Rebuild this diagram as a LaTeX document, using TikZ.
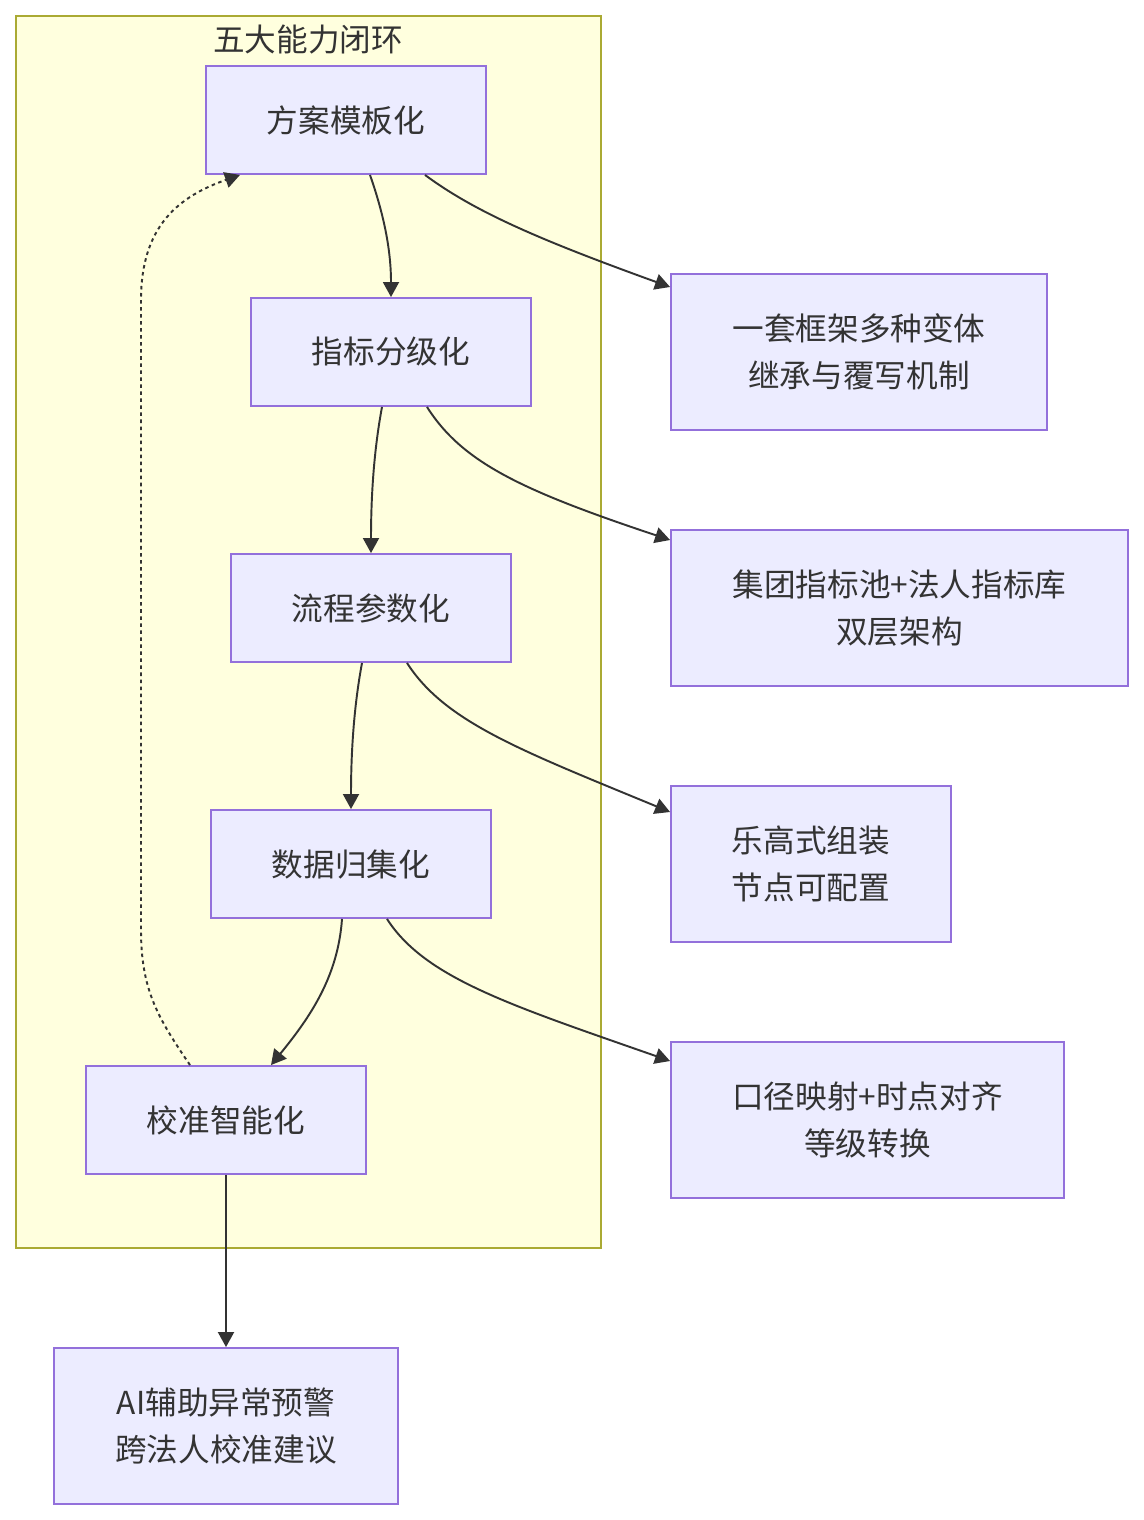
\documentclass[tikz,border=0pt]{standalone}
\usepackage{fontspec}
\setmainfont{Noto Sans CJK SC}
\usetikzlibrary{arrows.meta,calc}
\definecolor{nodefill}{HTML}{ECECFF}
\definecolor{nodeline}{HTML}{9370DB}
\definecolor{groupfill}{HTML}{FFFFDE}
\definecolor{groupline}{HTML}{AAAA33}
\definecolor{ink}{HTML}{333333}
\begin{document}
\begin{tikzpicture}[x=0.02cm,y=-0.02cm,>={Triangle[length=0.3cm,width=0.32cm]},
  line width=1.1pt,font=\fontsize{18pt}{27pt}\selectfont,text=ink,
  box/.style={draw=nodeline,fill=nodefill,inner sep=0pt,align=center,minimum height=2.16cm},
  tallbox/.style={box,minimum height=3.12cm},
  link/.style={draw=ink,->},
  loopback/.style={draw=ink,->,dash pattern=on 2pt off 2pt}]
  \useasboundingbox (0,0) rectangle (1143,1520);

  % 外框
  \draw[groupline,fill=groupfill] (16,16) rectangle (601,1248);
  \node (title) at (308,40) {五大能力闭环};

  % 五个主节点
  \node[box,minimum width=5.6cm] (fangan)    at (346,120)  {方案模板化};
  \node[box,minimum width=5.6cm] (zhibiao)   at (391,352)  {指标分级化};
  \node[box,minimum width=5.6cm] (liucheng)  at (371,608)  {流程参数化};
  \node[box,minimum width=5.6cm] (shuju)     at (351,864)  {数据归集化};
  \node[box,minimum width=5.6cm] (jiaozhun)  at (226,1120) {校准智能化};

  % 右侧说明节点
  \node[tallbox,minimum width=7.52cm] (bianti)     at (859,352)   {一套框架多种变体\\继承与覆写机制};
  \node[tallbox,minimum width=9.14cm] (shuangceng) at (899.5,608) {集团指标池+法人指标库\\双层架构};
  \node[tallbox,minimum width=5.6cm]  (legao)      at (811,864)   {乐高式组装\\节点可配置};
  \node[tallbox,minimum width=7.86cm] (koujing)    at (867.5,1120) {口径映射+时点对齐\\等级转换};
  \node[tallbox,minimum width=6.88cm] (ai)         at (226,1426)  {AI辅助异常预警\\跨法人校准建议};

  % 主链
  \draw[link] ($(fangan.south)+(24,0)$) .. controls (384,215) and (391,250) .. (zhibiao.north);
  \draw[link] ($(zhibiao.south)+(-9,0)$) .. controls (374,450) and (371,495) .. (liucheng.north);
  \draw[link] ($(liucheng.south)+(-9,0)$) .. controls (354,706) and (351,751) .. (shuju.north);
  \draw[link] ($(shuju.south)+(-9,0)$) .. controls (338,975) and (312,1015) .. ($(jiaozhun.north)+(45,0)$);
  \draw[link] (jiaozhun.south) -- (ai.north);

  % 右侧分支
  \draw[link] ($(fangan.south)+(79,0)$) .. controls (475,212) and (540,240) .. ($(bianti.west)+(0,-65)$);
  \draw[link] ($(zhibiao.south)+(36,0)$) .. controls (462,462) and (520,490) .. ($(shuangceng.west)+(0,-68)$);
  \draw[link] ($(liucheng.south)+(36,0)$) .. controls (445,722) and (520,750) .. ($(legao.west)+(0,-52)$);
  \draw[link] ($(shuju.south)+(36,0)$) .. controls (425,978) and (510,1005) .. ($(koujing.west)+(0,-59)$);

  % 虚线回环
  \draw[loopback] ($(jiaozhun.north)+(-36,0)$) .. controls (158,1018) and (141,990) .. (141,930)
    -- (141,300) .. controls (141,225) and (180,196) .. ($(fangan.south)+(-106,0)$);
\end{tikzpicture}
\end{document}
